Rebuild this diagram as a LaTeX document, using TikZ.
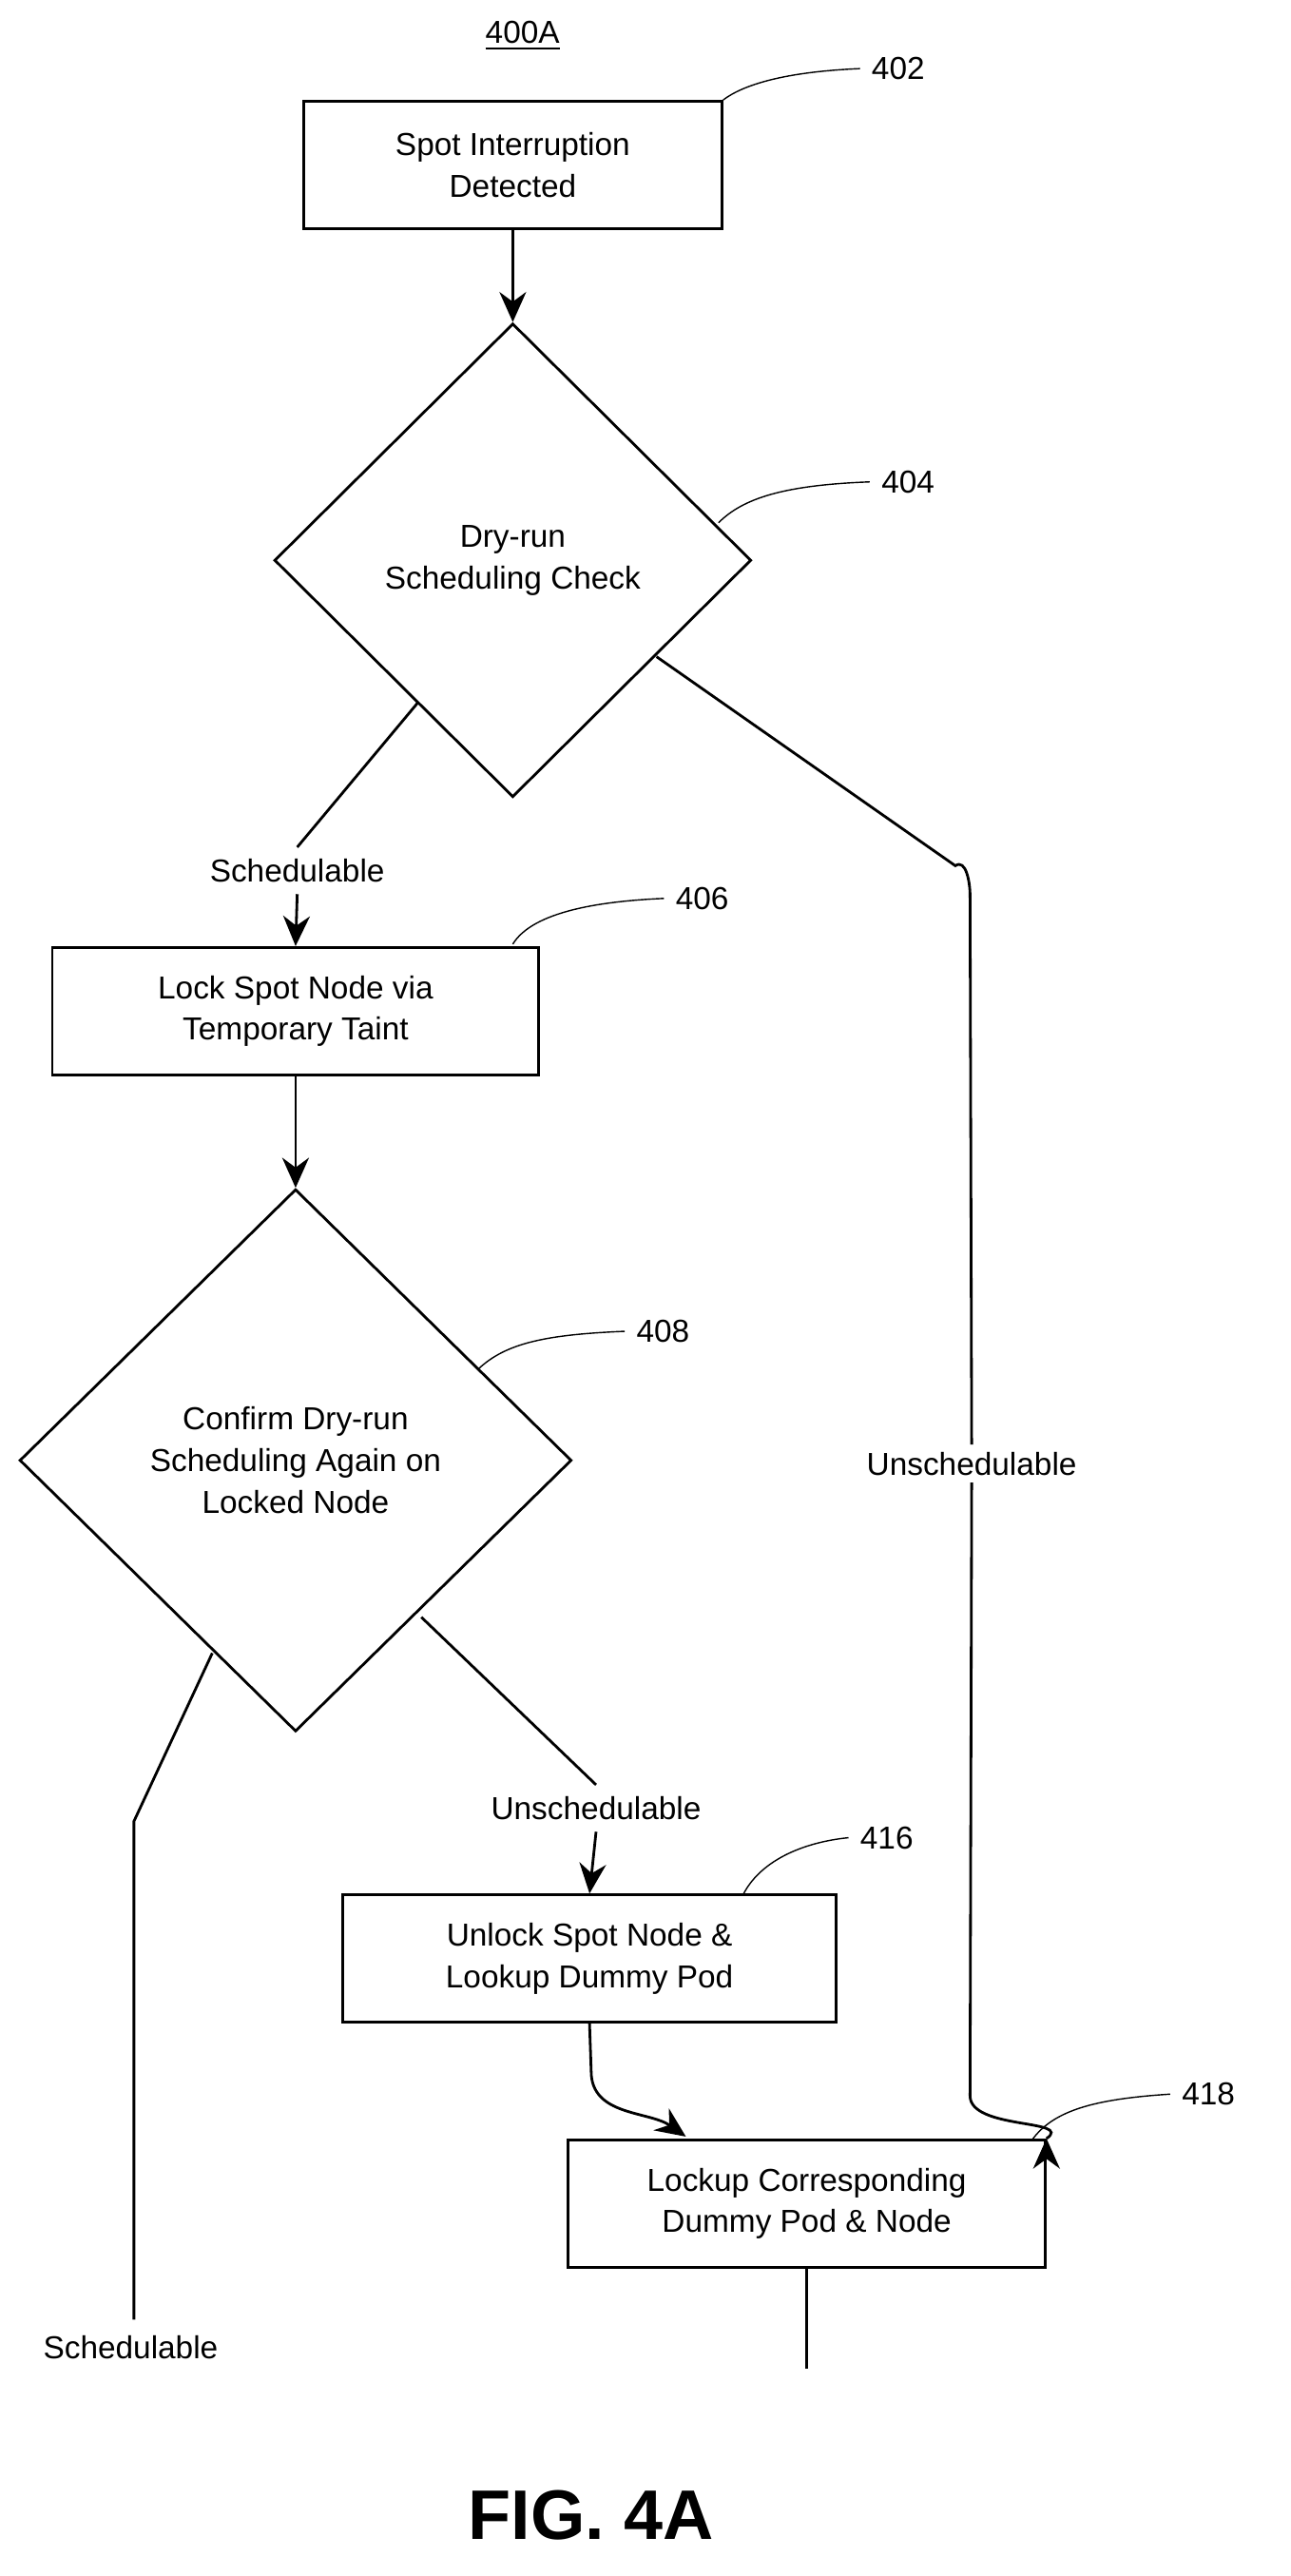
\documentclass[tikz,border=0pt]{standalone}
\usepackage{fontspec}
\setmainfont{Liberation Sans}
\usetikzlibrary{arrows.meta,positioning,shapes.geometric}
\tikzset{
  box/.style = {rectangle, draw=black, thick, align=center, inner sep=0pt},
  dia/.style = {diamond, draw=black, thick, align=center, inner sep=0pt, aspect=1},
  lbl/.style = {fill=white, inner sep=2pt},
  ref/.style = {black, thin},
  arr/.style = {thick, -{Stealth[length=9pt,width=8pt]}},
  ln/.style  = {thick}
}
\begin{document}
\begin{tikzpicture}[x=0.01718cm, y=-0.01718cm, font=\fontsize{9.5}{12.5}\selectfont]
	\useasboundingbox (0,0) rectangle (790,1577);

	\node (title) at (320,22) {\underline{400A}};

	\begin{scope}[every node/.style={box}]
		\node (n402) [minimum width=256*0.01718cm, minimum height=78*0.01718cm] at (314,101) {Spot Interruption\\Detected};
		\node (n406) [minimum width=298*0.01718cm, minimum height=78*0.01718cm] at (181,619) {Lock Spot Node via\\Temporary Taint};
		\node (n416) [minimum width=302*0.01718cm, minimum height=78*0.01718cm] at (361,1199) {Unlock Spot Node \&\\Lookup Dummy Pod};
		\node (n418) [minimum width=292*0.01718cm, minimum height=78*0.01718cm] at (494,1349) {Lockup Corresponding\\Dummy Pod \& Node};
	\end{scope}

	\begin{scope}[every node/.style={dia}]
		\node (n404) [minimum width=292*0.01718cm, minimum height=290*0.01718cm] at (314,343) {Dry-run\\Scheduling Check};
		\node (n408) [minimum width=338*0.01718cm, minimum height=332*0.01718cm] at (181,894) {Confirm Dry-run\\Scheduling Again on\\Locked Node};
	\end{scope}

	% reference numerals
	\node (r402) at (550,42) {402};
	\node (r404) at (556,295) {404};
	\node (r406) at (430,550) {406};
	\node (r408) at (406,815) {408};
	\node (r416) at (543,1125) {416};
	\node (r418) at (740,1282) {418};
	\draw[ref] (n402.north east) .. controls (455,52) and (480,44) .. (r402.west);
	\draw[ref] (440,320) .. controls (455,305) and (480,297) .. (r404.west);
	\draw[ref] (314,578) .. controls (325,560) and (360,552) .. (r406.west);
	\draw[ref] (293,838) .. controls (310,822) and (335,817) .. (r408.west);
	\draw[ref] (455,1160) .. controls (465,1140) and (490,1128) .. (r416.west);
	\draw[ref] (632,1310) .. controls (645,1292) and (670,1285) .. (r418.west);

	% labels
	\node (s1) at (182,533) {Schedulable};
	\node (u1) [lbl] at (595,896) {Unschedulable};
	\node (s2) at (80,1437) {Schedulable};
	\node (u2) at (365,1107) {Unschedulable};

	% connectors
	\draw[arr] (n402) -- (n404);
	\draw[ln] (256,430) -- (s1.north);
	\draw[arr] (s1.south) -- (n406.north);
	\draw[arr] (n406) -- (n408);
	\draw[ln] (402,402) -- (585,530) to[out=35,in=90] (594,548) -- (u1.north);
	\draw[arr] (u1.south) -- (594,1283) to[out=-90,in=35] (n418.north east) ++(0,0);
	\draw[ln] (130,1012) -- (82,1115) -- (82,1420);
	\draw[ln] (258,990) -- (u2.north);
	\draw[arr] (u2.south) -- (n416.north);
	\draw[arr] (n416.south) -- (362,1268) to[out=-90,in=145] (420,1308);
	\draw[ln] (n418.south) -- (494,1450);

	\node (fig) at (362,1540) {\fontsize{21}{25}\selectfont\bfseries FIG. 4A};
\end{tikzpicture}
\end{document}
